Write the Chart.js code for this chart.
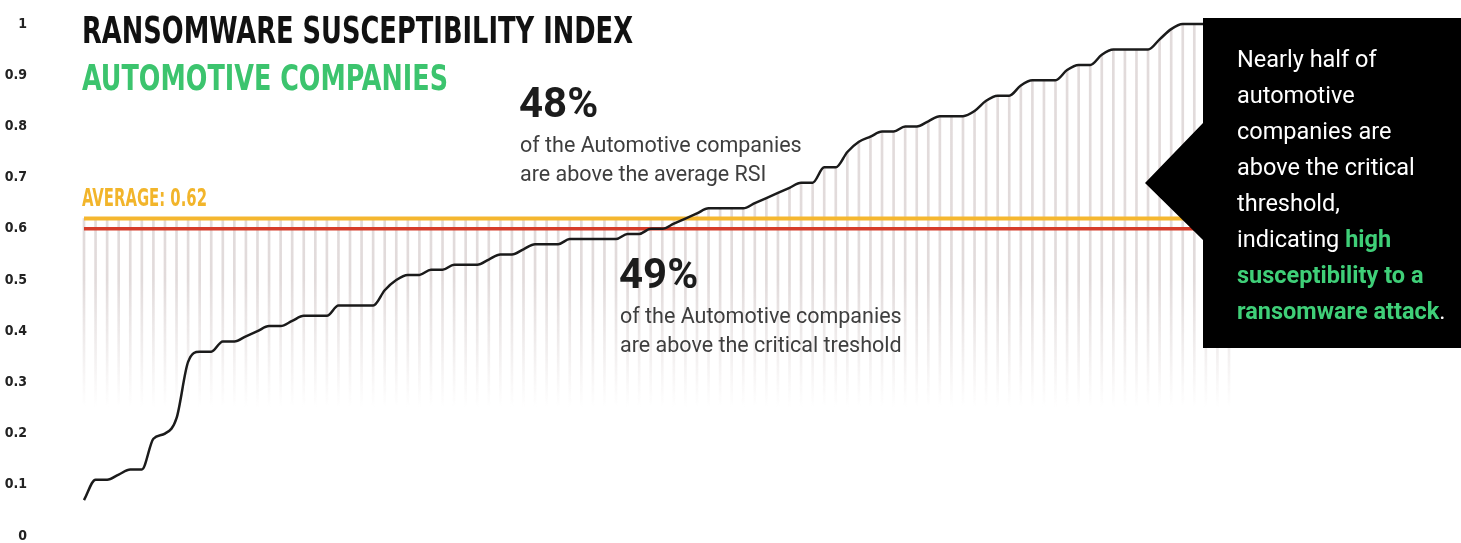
<!DOCTYPE html>
<html>
<head>
<meta charset="utf-8">
<title>Ransomware Susceptibility Index - Automotive Companies</title>
<script src="https://cdn.jsdelivr.net/npm/chart.js@4.4.1/dist/chart.umd.min.js"></script>
<style>
  html, body { margin: 0; padding: 0; background: #fff; }
  #wrap { position: relative; width: 1461px; height: 543px; overflow: hidden; background: #fff; }
  #chart-box { position: absolute; left: 0; top: 0; width: 1461px; height: 543px; }
  .txt { position: absolute; white-space: nowrap; transform-origin: 0 0; }
  .head { font-family: 'Liberation Sans Narrow', 'DejaVu Sans Condensed', 'DejaVu Sans', sans-serif; font-weight: bold; line-height: 0; display: inline-block; }
  .pct { font-family: Roboto, sans-serif; font-weight: bold; font-size: 42px; line-height: 0; color: #1c1c1c; }
  .note { font-family: Roboto, sans-serif; font-size: 21.5px; line-height: 29.4px; color: #3e3e3e; }
  #callout { position: absolute; left: 1145px; top: 18px; width: 316px; height: 330px; background: #000;
    clip-path: polygon(58px 0, 100% 0, 100% 100%, 58px 100%, 58px 222px, 0 165px, 58px 105px); }
  .callout-text { font-family: Roboto, sans-serif; font-size: 23.5px; line-height: 36px; color: #fff; }
  .callout-text b { color: #3fcf78; font-weight: bold; }
</style>
</head>
<body>
<div id="wrap">
  <div id="chart-box"><canvas id="rsi-chart"></canvas></div>

  <div class="txt head" data-w="551" style="left:82px; top:30px; font-size:38px; color:#111;">RANSOMWARE SUSCEPTIBILITY INDEX</div>
  <div class="txt head" data-w="366" style="left:82px; top:78px; font-size:35px; color:#3cc46e;">AUTOMOTIVE COMPANIES</div>
  <div class="txt head" data-w="125" style="left:82px; top:198px; font-size:25px; color:#f2b52b;">AVERAGE: 0.62</div>

  <div class="txt pct" style="left:519px; top:103px;">48%</div>
  <div class="txt note" style="left:520px; top:130px;">of the Automotive companies<br>are above the average RSI</div>

  <div class="txt pct" style="left:619px; top:274px;">49%</div>
  <div class="txt note" style="left:620px; top:301px;">of the Automotive companies<br>are above the critical treshold</div>

  <div id="callout"></div>
  <div class="txt callout-text" style="left:1237px; top:41px;">Nearly half of<br>automotive<br>companies are<br>above the critical<br>threshold,<br>indicating <b>high</b><br><b>susceptibility to a</b><br><b>ransomware attack</b>.</div>
</div>

<script>
// one entry per company, sorted by index
const companies = Array.from({ length: 100 }, (_, i) => 'Company ' + (i + 1));

const rsi = [
  0.07, 0.11, 0.11, 0.12, 0.13, 0.13, 0.19, 0.20, 0.23, 0.34,
  0.36, 0.36, 0.38, 0.38, 0.39, 0.40, 0.41, 0.41, 0.42, 0.43,
  0.43, 0.43, 0.45, 0.45, 0.45, 0.45, 0.48, 0.50, 0.51, 0.51,
  0.52, 0.52, 0.53, 0.53, 0.53, 0.54, 0.55, 0.55, 0.56, 0.57,
  0.57, 0.57, 0.58, 0.58, 0.58, 0.58, 0.58, 0.59, 0.59, 0.60,
  0.60, 0.61, 0.62, 0.63, 0.64, 0.64, 0.64, 0.64, 0.65, 0.66,
  0.67, 0.68, 0.69, 0.69, 0.72, 0.72, 0.75, 0.77, 0.78, 0.79,
  0.79, 0.80, 0.80, 0.81, 0.82, 0.82, 0.82, 0.83, 0.85, 0.86,
  0.86, 0.88, 0.89, 0.89, 0.89, 0.91, 0.92, 0.92, 0.94, 0.95,
  0.95, 0.95, 0.95, 0.97, 0.99, 1.00, 1.00, 1.00, 1.00, 1.00
];

const AVERAGE = 0.62;
const CRITICAL = 0.6;
const yTickLabels = ['0', '0.1', '0.2', '0.3', '0.4', '0.5', '0.6', '0.7', '0.8', '0.9', '1'];

// stems fade out below this value
const STEM_FLOOR = 0.25;

// squeeze the condensed headings to their box width
document.querySelectorAll('[data-w]').forEach(function (el) {
  const w = el.getBoundingClientRect().width;
  el.style.transform = 'scaleX(' + (parseFloat(el.dataset.w) / w) + ')';
});

function stemColor(context) {
  const chart = context.chart;
  if (!chart.chartArea) return 'rgba(190,175,175,0.45)';
  const y = chart.scales.y;
  const g = chart.ctx.createLinearGradient(0, y.getPixelForValue(0.5), 0, y.getPixelForValue(STEM_FLOOR));
  g.addColorStop(0, 'rgba(190,175,175,0.45)');
  g.addColorStop(1, 'rgba(190,175,175,0)');
  return g;
}

const ctx = document.getElementById('rsi-chart');
new Chart(ctx, {
  type: 'line',
  data: {
    labels: companies,
    datasets: [
      {
        label: 'RSI',
        data: rsi,
        borderColor: '#1b1b1b',
        borderWidth: 2.5,
        pointRadius: 0,
        cubicInterpolationMode: 'monotone',
        fill: false,
        order: 1,
        clip: false
      },
      {
        label: 'Average',
        data: companies.map(() => AVERAGE),
        borderColor: '#f5b72f',
        borderWidth: 4,
        pointRadius: 0,
        fill: false,
        order: 2
      },
      {
        label: 'Critical threshold',
        data: companies.map(() => CRITICAL),
        borderColor: '#d63d2b',
        borderWidth: 3.5,
        pointRadius: 0,
        fill: false,
        order: 2
      },
      {
        type: 'bar',
        label: 'stems',
        data: rsi.map(v => [STEM_FLOOR, Math.max(v, AVERAGE)]),
        backgroundColor: stemColor,
        barThickness: 2,
        order: 3,
        clip: false
      }
    ]
  },
  options: {
    responsive: true,
    maintainAspectRatio: false,
    animation: false,
    layout: { padding: { top: 24, bottom: 7, left: 0, right: 232 } },
    plugins: {
      legend: { display: false },
      tooltip: { enabled: false }
    },
    scales: {
      x: {
        display: false,
        offset: false,
        grid: { display: false, offset: false }
      },
      y: {
        min: 0,
        max: 1,
        border: { display: false },
        grid: { display: false, drawTicks: false },
        ticks: {
          stepSize: 0.1,
          padding: 57,
          color: '#222',
          font: { family: "'Liberation Sans Narrow', 'DejaVu Sans Condensed', sans-serif", size: 14, weight: 'bold' },
          callback: (v, i) => yTickLabels[i]
        },
        // the wide label gap should only push sideways, not shrink the plot vertically
        afterFit: (scale) => {
          scale.width = 84;
          scale.paddingTop = 0;
          scale.paddingBottom = 0;
        }
      }
    }
  }
});
</script>
</body>
</html>
